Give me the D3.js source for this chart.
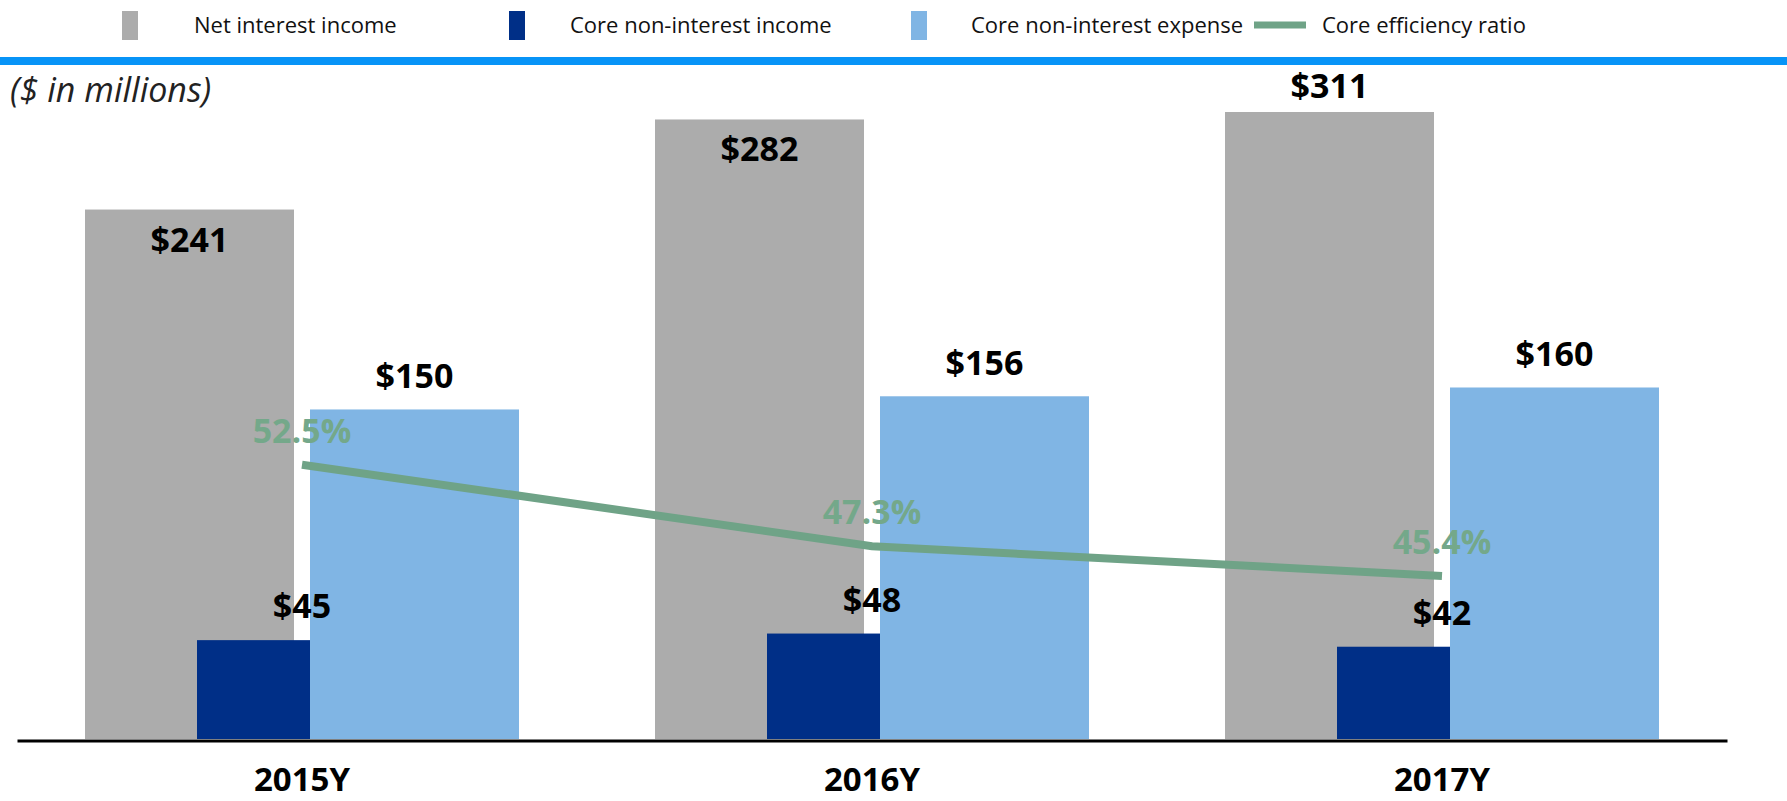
<!DOCTYPE html>
<html>
<head>
<meta charset="utf-8">
<script src="https://cdn.jsdelivr.net/npm/d3@7"></script>
<style>
  body { margin: 0; background: #fff; }
  svg { display: block; font-family: "Open Sans", sans-serif; }
</style>
</head>
<body>
<div id="chart"></div>
<script>

var years = ["2015Y", "2016Y", "2017Y"];
var netInterestIncome = [241, 282, 311];
var coreNonInterestIncome = [45, 48, 42];
var coreNonInterestExpense = [150, 156, 160];
var coreEfficiencyRatio = [52.5, 47.3, 45.4];
var legendLabels = ["Net interest income", "Core non-interest income", "Core non-interest expense", "Core efficiency ratio"];

var width = 1787, height = 801;
var baseY = 739, topY = 112;

var colors = {
  gray: "#acacac",
  navy: "#002f87",
  light: "#80b5e4",
  green: "#6fa387",
  rule: "#0794f7"
};

var svg = d3.select("#chart").append("svg")
    .attr("width", width)
    .attr("height", height);

// x: one band per year
var x = d3.scaleBand()
    .domain(years)
    .range([17, 1727])
    .paddingInner(0)
    .paddingOuter(0);

// left axis (clipped at the top, the 311 bar runs past it)
var y = d3.scaleLinear()
    .domain([0, 285.4])
    .range([baseY, topY])
    .clamp(true);

// right axis for the ratio line
var y2 = d3.scaleLinear()
    .domain([35, 75])
    .range([baseY, topY]);

var barW = 209, navyW = 113, gap = 8;
function center(yr) { return x(yr) + x.bandwidth() / 2; }

// legend + top rule
var legend = svg.append("g").attr("class", "legend");
var legendItems = [
  {name: legendLabels[0], color: colors.gray, sx: 122, tx: 194},
  {name: legendLabels[1], color: colors.navy, sx: 509, tx: 570},
  {name: legendLabels[2], color: colors.light, sx: 911, tx: 971},
  {name: legendLabels[3], color: colors.green, sx: 1254, tx: 1322, line: true}
];
legendItems.forEach(function(d) {
  if (d.line) {
    legend.append("line")
      .attr("x1", d.sx).attr("x2", d.sx + 52)
      .attr("y1", 25).attr("y2", 25)
      .attr("stroke", d.color)
      .attr("stroke-width", 7);
  } else {
    legend.append("rect")
      .attr("x", d.sx).attr("y", 11)
      .attr("width", 16).attr("height", 29)
      .attr("fill", d.color);
  }
  legend.append("text")
    .attr("x", d.tx).attr("y", 33)
    .attr("font-size", 22)
    .attr("fill", "#111")
    .text(d.name);
});

svg.append("rect")
  .attr("x", 0).attr("y", 57)
  .attr("width", width).attr("height", 8)
  .attr("fill", colors.rule);

svg.append("text")
  .attr("x", 10).attr("y", 102)
  .attr("font-size", 34)
  .attr("font-style", "italic")
  .attr("fill", "#222")
  .text("($ in millions)");

// bars
var rows = years.map(function(yr, i) {
  return {year: yr, nii: netInterestIncome[i], nonInc: coreNonInterestIncome[i],
          exp: coreNonInterestExpense[i], ratio: coreEfficiencyRatio[i]};
});

var groups = svg.append("g").selectAll("g")
  .data(rows)
  .enter()
  .append("g");

groups.append("rect")
  .attr("x", function(d) { return center(d.year) - gap - barW; })
  .attr("y", function(d) { return y(d.nii); })
  .attr("width", barW)
  .attr("height", function(d) { return baseY - y(d.nii); })
  .attr("fill", colors.gray);

groups.append("rect")
  .attr("x", function(d) { return center(d.year) + gap; })
  .attr("y", function(d) { return y(d.exp); })
  .attr("width", barW)
  .attr("height", function(d) { return baseY - y(d.exp); })
  .attr("fill", colors.light);

groups.append("rect")
  .attr("x", function(d) { return center(d.year) + gap - navyW; })
  .attr("y", function(d) { return y(d.nonInc); })
  .attr("width", navyW)
  .attr("height", function(d) { return baseY - y(d.nonInc); })
  .attr("fill", colors.navy);

// value labels
var lab = svg.append("g")
  .attr("font-size", 34)
  .attr("font-weight", "bold")
  .attr("text-anchor", "middle")
  .attr("fill", "#000");

lab.selectAll(".l-nii").data(rows).enter().append("text")
  .attr("x", function(d) { return center(d.year) - gap - barW / 2; })
  .attr("y", function(d) {
    return d.nii > y.domain()[1] ? y(d.nii) - 14 : y(d.nii) + 42;
  })
  .text(function(d) { return "$" + d.nii; });

lab.selectAll(".l-exp").data(rows).enter().append("text")
  .attr("x", function(d) { return center(d.year) + gap + barW / 2; })
  .attr("y", function(d) { return y(d.exp) - 21; })
  .text(function(d) { return "$" + d.exp; });

lab.selectAll(".l-inc").data(rows).enter().append("text")
  .attr("x", function(d) { return center(d.year); })
  .attr("y", function(d) { return y(d.nonInc) - 22; })
  .text(function(d) { return "$" + d.nonInc; });

// efficiency ratio line
var line = d3.line()
  .x(function(d) { return center(d.year); })
  .y(function(d) { return y2(d.ratio); });

svg.append("path")
  .datum(rows)
  .attr("d", line)
  .attr("fill", "none")
  .attr("stroke", colors.green)
  .attr("stroke-width", 8);

svg.append("g")
  .attr("font-size", 34)
  .attr("font-weight", "bold")
  .attr("text-anchor", "middle")
  .attr("fill", "#74a88a")
  .selectAll("text")
  .data(rows).enter().append("text")
  .attr("x", function(d) { return center(d.year); })
  .attr("y", function(d) { return y2(d.ratio) - 22; })
  .text(function(d) { return d.ratio.toFixed(1) + "%"; });

// x axis
var xAxis = svg.append("g")
  .attr("transform", "translate(0," + (baseY + 1.5) + ")")
  .call(d3.axisBottom(x).tickSize(0).tickPadding(0));

xAxis.select(".domain")
  .attr("stroke", "#000")
  .attr("stroke-width", 3);

xAxis.selectAll("text")
  .attr("font-family", "Open Sans, sans-serif")
  .attr("font-size", 33)
  .attr("font-weight", "bold")
  .attr("fill", "#000")
  .attr("dy", 0)
  .attr("y", 50);

</script>
</body>
</html>
